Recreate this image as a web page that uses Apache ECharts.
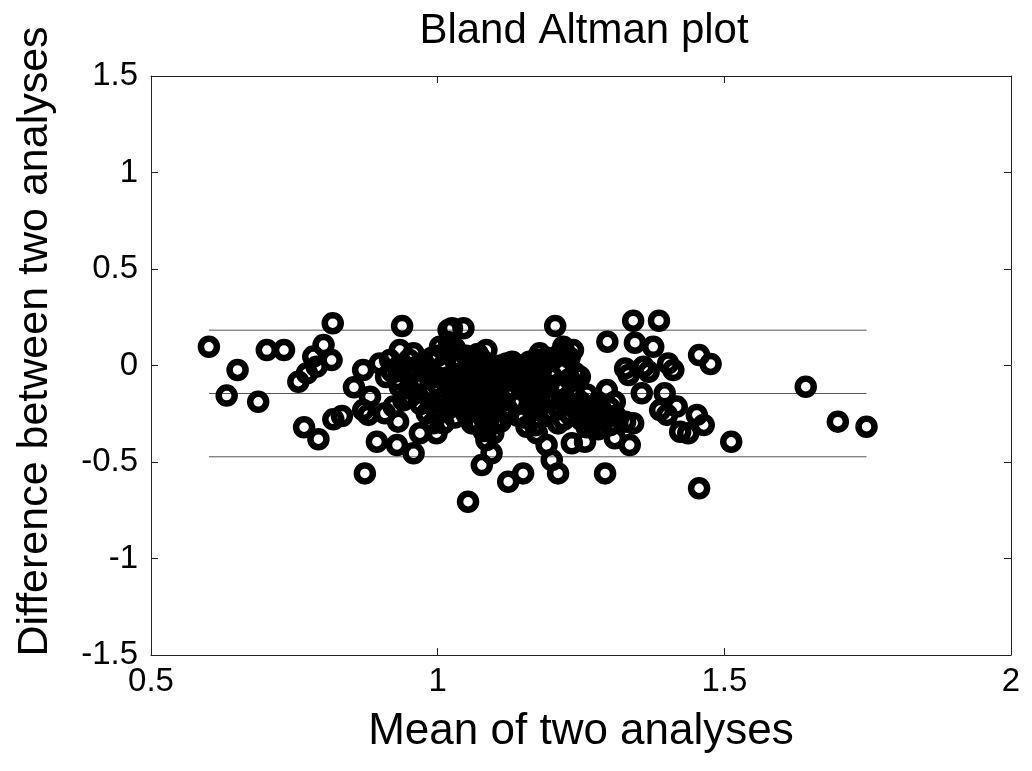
<!DOCTYPE html>
<html>
<head>
<meta charset="utf-8">
<script src="https://cdn.jsdelivr.net/npm/echarts@6/dist/echarts.min.js"></script>
<style>
  html, body { margin: 0; padding: 0; background: #fff; }
  #chart_bland { width: 1032px; height: 771px; }
</style>
</head>
<body>
<div id="chart_bland"></div>
<script>
/**
 * Bland Altman plot
 */
var xTicks = [0.5, 1, 1.5, 2];
var yTicks = [-1.5, -1, -0.5, 0, 0.5, 1, 1.5];

// mean of the two analyses (x) and their difference (y)
var meanVals = [
    0.601, 0.651, 0.632, 0.687, 0.702, 0.732, 0.817, 0.801, 0.783, 0.815,
    0.789, 0.772, 0.757, 0.767, 0.792, 0.818, 0.833, 0.873, 0.894, 0.929,
    0.958, 0.938, 0.854, 0.870, 0.882, 0.870, 0.879, 0.908, 0.931, 0.923,
    0.917, 0.934, 0.958, 0.934, 0.952, 0.981, 0.969, 0.992, 1.004, 1.019,
    0.998, 0.899,
    1.025, 1.045, 1.205, 1.053, 1.123, 1.149, 1.077, 1.094, 1.210, 1.199,
    1.190, 0.998, 1.234, 1.257, 1.248, 1.236, 1.178, 1.132, 1.120, 1.085,
    1.074, 1.097, 1.085, 1.155, 1.173, 1.219,
    1.341, 1.386, 1.296, 1.344, 1.376, 1.456, 1.476, 1.327, 1.333, 1.359,
    1.368, 1.402, 1.411, 1.356, 1.295, 1.309, 1.396, 1.388, 1.400, 1.417,
    1.423, 1.437, 1.452, 1.464, 1.327, 1.341, 1.309, 1.335, 1.292, 1.456,
    1.512, 1.642, 1.698, 1.748, 1.283,
    0.920, 0.930, 0.940, 0.950, 0.960, 0.940, 0.910,
    0.970, 0.980, 0.980, 0.990, 0.990, 1.000, 1.000, 1.010, 1.010, 1.010,
    1.020, 1.020, 1.020, 1.020, 1.030, 1.030, 1.030, 1.040, 1.040, 1.040,
    1.050, 1.050, 1.050, 1.050, 1.060, 1.060, 1.060, 1.060, 1.070, 1.070,
    1.070, 1.070, 1.080, 1.080, 1.080, 1.080, 1.090, 1.090, 1.090, 1.100,
    1.100, 1.100, 1.110, 1.110, 1.110, 1.120, 1.120,
    1.130, 1.140, 1.140, 1.150, 1.150, 1.150, 1.160, 1.160, 1.170, 1.170,
    1.170, 1.180, 1.180, 1.180, 1.190, 1.190, 1.200, 1.200, 1.200, 1.210,
    1.210, 1.220, 1.220, 1.220, 1.230, 1.230, 1.240, 1.240, 1.250, 1.250,
    1.260, 1.260, 1.270, 1.270, 1.280, 1.280, 1.290, 1.300, 1.300, 1.310,
    1.210, 1.220, 1.190, 1.160, 1.110, 1.130,
    0.960, 0.970, 0.970, 0.990, 1.000, 1.000, 1.010, 1.020, 1.030, 1.030,
    1.040, 1.040, 1.050, 1.060, 1.060, 1.070, 1.070, 1.080, 1.080, 1.090,
    1.090, 1.100, 1.100, 1.110, 1.120, 1.130, 1.140, 1.150, 1.160, 1.170,
    1.180, 1.190, 1.200, 1.210, 1.220, 1.230, 1.240, 1.250, 1.260, 1.270,
    1.280, 1.290, 1.230, 1.170, 1.140, 0.950, 0.930
];
var diffVals = [
    0.097, -0.023, -0.156, -0.188, 0.080, 0.080, 0.219, 0.106, 0.046, 0.028,
    -0.006, -0.040, -0.084, -0.320, -0.382, -0.279, -0.262, -0.559, -0.395, -0.412,
    -0.455, 0.205, -0.113, -0.023, -0.162, -0.231, -0.256, -0.248, -0.291, -0.213,
    0.028, 0.080, 0.063, -0.110, -0.162, -0.248, -0.351, -0.299, 0.097, 0.184,
    -0.058, 0.011,
    0.193, 0.193, 0.205, -0.706, -0.602, -0.559, -0.516, -0.455, -0.559, -0.490,
    -0.412, -0.351, -0.403, -0.395, -0.058, 0.080, 0.063, 0.011, 0.011, 0.080,
    0.039, -0.351, -0.386, -0.317, -0.351, 0.097,
    0.232, 0.232, 0.123, 0.118, 0.097, 0.054, 0.008, -0.015, -0.049, -0.006,
    -0.032, 0.011, -0.023, -0.144, -0.127, -0.188, -0.144, -0.231, -0.256, -0.213,
    -0.343, -0.351, -0.256, -0.308, -0.291, -0.299, -0.377, -0.412, -0.559, -0.636,
    -0.395, -0.110, -0.291, -0.317, -0.317,
    -0.030, -0.070, 0.000, -0.120, -0.030, -0.180, -0.060,
    -0.080, -0.020, -0.150, -0.200, 0.040, -0.100, -0.250, 0.000, -0.170, -0.300,
    0.070, -0.060, -0.130, -0.220, 0.030, -0.100, -0.270, -0.040, -0.160, -0.200,
    0.050, -0.080, -0.140, -0.250, -0.010, -0.110, -0.190, -0.300, 0.060, -0.060,
    -0.150, -0.240, -0.020, -0.120, -0.210, -0.340, -0.080, -0.170, -0.270, -0.040,
    -0.140, -0.230, -0.100, -0.190, -0.290, -0.060, -0.150,
    -0.010, -0.090, -0.200, -0.040, -0.130, -0.270, 0.000, -0.170, -0.080, -0.230,
    -0.310, -0.030, -0.140, -0.200, -0.100, -0.260, 0.030, -0.060, -0.170, -0.220,
    -0.300, -0.010, -0.120, -0.190, -0.250, -0.070, -0.160, -0.220, -0.280, -0.190,
    -0.240, -0.320, -0.210, -0.270, -0.240, -0.330, -0.280, -0.220, -0.310, -0.260,
    0.050, 0.070, 0.040, 0.020, 0.000, 0.020,
    -0.090, 0.010, -0.200, -0.120, 0.050, -0.180, -0.070, 0.120, -0.190, 0.090,
    0.010, -0.110, -0.200, 0.030, -0.150, -0.100, -0.300, 0.020, -0.270, -0.020,
    -0.210, -0.090, -0.300, -0.040, -0.220, -0.120, -0.260, -0.080, -0.210, -0.130,
    0.010, -0.180, -0.240, -0.100, -0.280, -0.200, -0.040, -0.240, -0.150, -0.300,
    -0.190, -0.250, 0.040, 0.030, 0.000, 0.030, -0.010
];

// mean difference and limits of agreement, drawn across the data range
var limitRange = [0.601, 1.748];
var limitLevels = [0.183, -0.145, -0.473];

var fontFamily = '"Liberation Sans", Arial, sans-serif';

var points = meanVals.map(function (m, i) {
    return [m, diffVals[i]];
});

var limitSeries = limitLevels.map(function (lv) {
    return {
        type: 'line',
        data: [[limitRange[0], lv], [limitRange[1], lv]],
        symbol: 'none',
        silent: true,
        z: 1,
        lineStyle: { color: '#555', width: 1 }
    };
});

var chart_bland = echarts.init(document.getElementById('chart_bland'));

var axisLineStyle = { onZero: false, lineStyle: { color: '#222', width: 1 } };
var tickStyle = { inside: true, length: 7, lineStyle: { color: '#222', width: 1 } };

var chart_bland_option = {
    backgroundColor: '#fff',
    animation: false,
    title: {
        text: 'Bland Altman plot',
        left: 579,
        textAlign: 'center',
        top: 5,
        textStyle: { color: '#000', fontSize: 42, fontWeight: 'normal', fontFamily: fontFamily }
    },
    grid: { left: 151, right: 21, top: 76, bottom: 116 },
    xAxis: [
        {
            type: 'value',
            position: 'bottom',
            min: xTicks[0],
            max: xTicks[xTicks.length - 1],
            interval: 0.5,
            axisLine: axisLineStyle,
            axisTick: tickStyle,
            splitLine: { show: false },
            axisLabel: { color: '#000', fontSize: 33, margin: 10, fontFamily: fontFamily },
            name: 'Mean of two analyses',
            nameLocation: 'middle',
            nameGap: 55,
            nameTextStyle: { color: '#000', fontSize: 44, fontFamily: fontFamily }
        },
        {
            type: 'value',
            position: 'top',
            min: xTicks[0],
            max: xTicks[xTicks.length - 1],
            interval: 0.5,
            axisLine: axisLineStyle,
            axisTick: tickStyle,
            splitLine: { show: false },
            axisLabel: { show: false }
        }
    ],
    yAxis: [
        {
            type: 'value',
            position: 'left',
            min: yTicks[0],
            max: yTicks[yTicks.length - 1],
            interval: 0.5,
            axisLine: axisLineStyle,
            axisTick: tickStyle,
            splitLine: { show: false },
            axisLabel: { color: '#000', fontSize: 33, margin: 13, fontFamily: fontFamily },
            name: 'Difference between two analyses',
            nameLocation: 'middle',
            nameGap: 94,
            nameTextStyle: { color: '#000', fontSize: 43, fontFamily: fontFamily, padding: [0, 0, 0, 48] }
        },
        {
            type: 'value',
            position: 'right',
            min: yTicks[0],
            max: yTicks[yTicks.length - 1],
            interval: 0.5,
            axisLine: axisLineStyle,
            axisTick: tickStyle,
            splitLine: { show: false },
            axisLabel: { show: false }
        }
    ],
    series: limitSeries.concat([
        {
            name: 'difference',
            type: 'scatter',
            data: points,
            symbol: 'circle',
            symbolSize: 16,
            z: 2,
            itemStyle: { color: 'rgba(0,0,0,0)', borderColor: '#000', borderWidth: 6.5, opacity: 1 },
            emphasis: { disabled: true }
        }
    ])
};
chart_bland.setOption(chart_bland_option);
</script>
</body>
</html>
